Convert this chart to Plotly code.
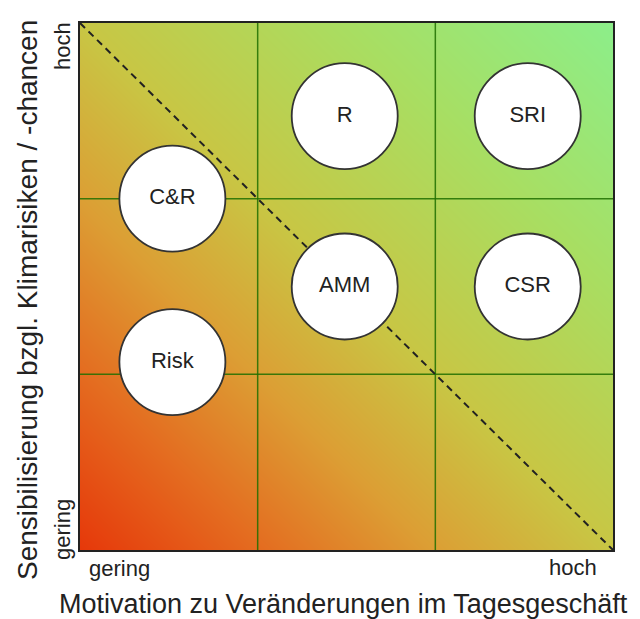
import plotly.graph_objects as go

# ---- data ----
labels = ["C&R", "Risk", "R", "SRI", "AMM", "CSR"]
motivation = [0.52, 0.52, 1.49, 2.52, 1.49, 2.52]      # x
sensibilisierung = [2.0, 1.07, 2.47, 2.47, 1.5, 1.5]   # y

grid_positions = [1, 2]
axis_range = [0, 3]
x_tick_labels = ["gering", "hoch"]
y_tick_labels = ["gering", "hoch"]
x_title = "Motivation zu Veränderungen im Tagesgeschäft"
y_title = "Sensibilisierung bzgl. Klimarisiken / -chancen"

# background gradient (corner values, bilinear -> diagonal gradient)
grad_x = [0, 3]
grad_y = [0, 3]
grad_z = [[0.0, 0.5], [0.5, 1.0]]
grad_colors = [
    [0.0, "#e6380a"],
    [0.17, "#e46c20"],
    [0.33, "#dc9e34"],
    [0.5, "#c8c644"],
    [0.75, "#a8de62"],
    [1.0, "#8cee8a"],
]

FONT = "Liberation Sans, Arial, sans-serif"
TXT = "#222222"

fig = go.Figure()

fig.add_trace(go.Heatmap(
    x=grad_x, y=grad_y, z=grad_z, zsmooth="best",
    colorscale=grad_colors, zmin=0, zmax=1, showscale=False, hoverinfo="skip",
))

grid_color = "rgba(30,110,0,0.85)"
for g in grid_positions:
    fig.add_trace(go.Scatter(x=[g, g], y=axis_range, mode="lines",
                             line=dict(color=grid_color, width=1.5),
                             showlegend=False, hoverinfo="skip"))
    fig.add_trace(go.Scatter(x=axis_range, y=[g, g], mode="lines",
                             line=dict(color=grid_color, width=1.5),
                             showlegend=False, hoverinfo="skip"))

# dashed diagonal
fig.add_trace(go.Scatter(x=axis_range, y=axis_range[::-1], mode="lines",
                         line=dict(color="#222222", width=2, dash="7px,5px"),
                         showlegend=False, hoverinfo="skip"))

# circles
fig.add_trace(go.Scatter(
    x=motivation, y=sensibilisierung, mode="markers+text", text=labels,
    textposition="middle center",
    textfont=dict(family=FONT, size=22, color=TXT),
    marker=dict(size=106, color="white", line=dict(color="#333333", width=1.8)),
    showlegend=False, hoverinfo="skip", cliponaxis=False,
))

fig.update_xaxes(range=axis_range, showgrid=False, zeroline=False,
                 showticklabels=False, ticks="", showline=True, mirror=True,
                 linecolor="#222222", linewidth=2)
fig.update_yaxes(range=axis_range, showgrid=False, zeroline=False,
                 showticklabels=False, ticks="", showline=True, mirror=True,
                 linecolor="#222222", linewidth=2)

# page has an 8px body margin: figure starts at (8, 8)
OFF = 8
PL, PR, PT, PB = 80, 613, 23, 550       # desired plot area in page pixels
W, H = 640 - OFF, 619 - OFF
L, T = PL - OFF, PT - OFF
R, B = W - (PR - OFF), H - (PB - OFF)
pw, ph = PR - PL, PB - PT


def px(xp):
    return (xp - PL) / pw


def py(yp):
    return (PB - yp) / ph


ann = [
    dict(text=x_tick_labels[0], x=px(119), y=py(568), size=22, angle=0),
    dict(text=x_tick_labels[1], x=px(573), y=py(567), size=22, angle=0),
    dict(text=x_title, x=px(343), y=py(604), size=27, angle=0),
    dict(text=y_tick_labels[0], x=px(62), y=py(530), size=22, angle=-90),
    dict(text=y_tick_labels[1], x=px(62), y=py(46), size=22, angle=-90),
    dict(text=y_title, x=px(27), y=py(300), size=28, angle=-90),
]
for a in ann:
    fig.add_annotation(text=a["text"], x=a["x"], y=a["y"], xref="paper", yref="paper",
                       xanchor="center", yanchor="middle", showarrow=False,
                       textangle=a["angle"],
                       font=dict(family=FONT, size=a["size"], color=TXT))

fig.update_layout(
    width=W, height=H,
    margin=dict(l=L, r=R, t=T, b=B),
    paper_bgcolor="white", plot_bgcolor="white",
    showlegend=False,
)

fig.write_html("out.html")
